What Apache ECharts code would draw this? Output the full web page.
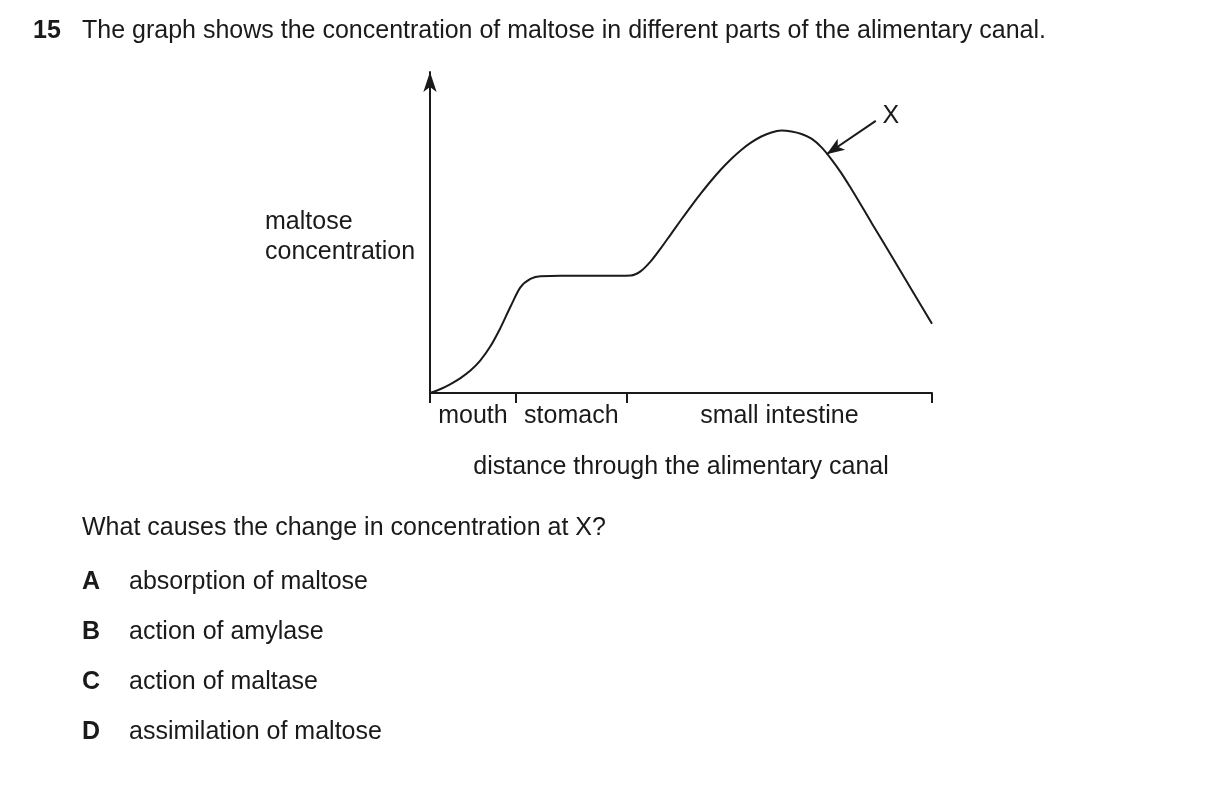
<!DOCTYPE html>
<html>
<head>
<meta charset="utf-8">
<script src="https://cdn.jsdelivr.net/npm/echarts@6/dist/echarts.min.js"></script>
<style>
  html, body { margin: 0; padding: 0; background: #fff; }
  #chart { width: 1209px; height: 793px; }
</style>
</head>
<body>
<div id="chart"></div>
<script>
// ---- data ----
const distance = [0, 2, 4, 6, 8, 10, 12, 14, 16, 18, 20, 22, 26, 30, 34, 38, 40, 42, 44, 46, 48, 50, 52, 54, 56, 58, 60, 62, 64, 66, 68, 70, 72, 74, 76, 78, 80, 82, 84, 88, 92, 96, 100];
const maltose  = [0, 1.2, 2.8, 4.7, 7.1, 10.4, 14.9, 20.8, 27.6, 33.9, 36.6, 37.5, 37.6, 37.6, 37.6, 37.6, 37.7, 39.1, 42.3, 46.5, 51.0, 55.5, 59.9, 64.1, 68.1, 71.8, 75.1, 78.0, 80.4, 82.3, 83.6, 84.2, 83.9, 83.1, 81.6, 78.8, 74.9, 70.4, 65.3, 54.5, 43.8, 33.0, 22.2];
const regionNames = ['mouth', 'stomach', 'small intestine'];
const regionBounds = [0, 17.1, 39.2, 100];
const pointerTip = [79.0, 76.6];
const pointerTail = [88.8, 87.3];
const pointerLabel = 'X';

const titleNum = '15';
const titleText = 'The graph shows the concentration of maltose in different parts of the alimentary canal.';
const yName = 'maltose\nconcentration';
const xName = 'distance through the alimentary canal';
const question = 'What causes the change in concentration at X?';
const optionLetters = ['A', 'B', 'C', 'D'];
const optionTexts = ['absorption of maltose', 'action of amylase', 'action of maltase', 'assimilation of maltose'];

// ---- derived ----
const seriesData = distance.map((d, i) => [d, maltose[i]]);
const labelPos = regionNames.map((_, i) => (regionBounds[i] + regionBounds[i + 1]) / 2);
const FONT = "'Liberation Sans', Arial, sans-serif";
const INK = '#1a1a1a';
const FS = 25;

const graphics = [
  { type: 'text', left: 33, top: 19, style: { text: titleNum, font: 'bold ' + FS + 'px ' + FONT, fill: INK } },
  { type: 'text', left: 82, top: 19, style: { text: titleText, font: FS + 'px ' + FONT, fill: INK } },
  { type: 'text', left: 265, top: 207, style: { text: yName, font: FS + 'px ' + FONT, fill: INK, lineHeight: 30 } },
  { type: 'text', left: 82, top: 516, style: { text: question, font: FS + 'px ' + FONT, fill: INK } }
];
optionLetters.forEach((l, i) => {
  graphics.push({ type: 'text', left: 82, top: 570 + i * 50, style: { text: l, font: 'bold ' + FS + 'px ' + FONT, fill: INK } });
  graphics.push({ type: 'text', left: 129, top: 570 + i * 50, style: { text: optionTexts[i], font: FS + 'px ' + FONT, fill: INK } });
});

// monotone-in-x cubic curve through the data points, positioned by the chart's own scales
function sgn(v) { return v < 0 ? -1 : 1; }
function renderCurve(params, api) {
  if (params.dataIndex !== 0) return null;
  const P = seriesData.map(p => api.coord(p));
  const n = P.length;
  const t = new Array(n);
  for (let i = 1; i < n - 1; i++) {
    const h0 = P[i][0] - P[i - 1][0], h1 = P[i + 1][0] - P[i][0];
    const s0 = (P[i][1] - P[i - 1][1]) / h0, s1 = (P[i + 1][1] - P[i][1]) / h1;
    const p = (s0 * h1 + s1 * h0) / (h0 + h1);
    t[i] = (sgn(s0) + sgn(s1)) * Math.min(Math.abs(s0), Math.abs(s1), 0.5 * Math.abs(p)) || 0;
  }
  const hA = P[1][0] - P[0][0];
  t[0] = (3 * (P[1][1] - P[0][1]) / hA - t[1]) / 2;
  const hB = P[n - 1][0] - P[n - 2][0];
  t[n - 1] = (3 * (P[n - 1][1] - P[n - 2][1]) / hB - t[n - 2]) / 2;
  let d = 'M' + P[0][0] + ' ' + P[0][1];
  for (let i = 0; i < n - 1; i++) {
    const dx = (P[i + 1][0] - P[i][0]) / 3;
    d += ' C' + (P[i][0] + dx) + ' ' + (P[i][1] + dx * t[i]) + ' ' +
         (P[i + 1][0] - dx) + ' ' + (P[i + 1][1] - dx * t[i + 1]) + ' ' +
         P[i + 1][0] + ' ' + P[i + 1][1];
  }
  return { type: 'path', shape: { pathData: d }, style: { fill: null, stroke: INK, lineWidth: 2 }, silent: true };
}

const chart = echarts.init(document.getElementById('chart'), null, { renderer: 'canvas' });
chart.setOption({
  animation: false,
  backgroundColor: '#fff',
  grid: { left: 430, top: 72, width: 502, height: 321, containLabel: false },
  xAxis: {
    type: 'value', min: 0, max: 100,
    name: xName, nameLocation: 'middle', nameGap: 62,
    nameTextStyle: { fontFamily: FONT, fontSize: FS, color: INK },
    axisLine: { show: true, lineStyle: { color: INK, width: 2 } },
    axisTick: { show: true, length: 10, lineStyle: { color: INK, width: 2 }, customValues: regionBounds },
    axisLabel: {
      show: true, customValues: labelPos, margin: 11,
      fontFamily: FONT, fontSize: FS, color: INK,
      formatter: v => { const i = labelPos.findIndex(p => Math.abs(p - v) < 1e-6); return i >= 0 ? regionNames[i] : ''; }
    },
    splitLine: { show: false }
  },
  yAxis: {
    type: 'value', min: 0, max: 103,
    axisLine: { show: true, symbol: ['none', 'arrow'], symbolSize: [10, 20], lineStyle: { color: INK, width: 2 } },
    axisTick: { show: false },
    axisLabel: { show: false },
    splitLine: { show: false }
  },
  series: [{
    type: 'custom',
    data: seriesData,
    renderItem: renderCurve,
    clip: false,
    markLine: {
      silent: true,
      symbol: ['none', 'arrow'],
      symbolSize: [10, 18],
      lineStyle: { color: INK, width: 2, type: 'solid' },
      label: { show: true, position: 'start', formatter: pointerLabel, fontFamily: FONT, fontSize: FS, color: INK, distance: 8 },
      data: [[{ coord: pointerTail }, { coord: pointerTip }]]
    }
  }],
  graphic: graphics
});
</script>
</body>
</html>
